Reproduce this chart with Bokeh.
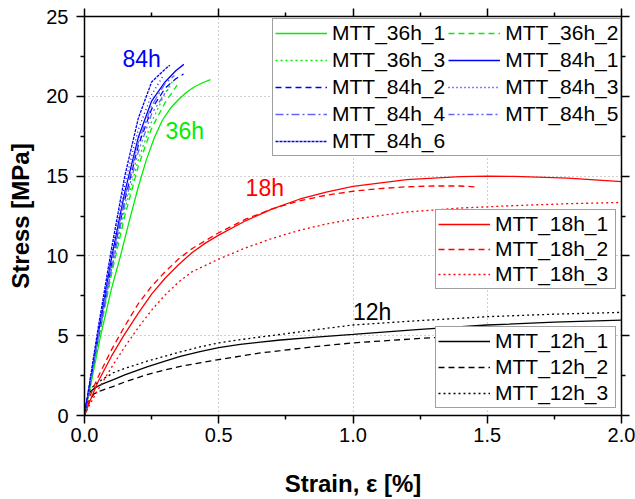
from bokeh.plotting import figure
from bokeh.models import (FixedTicker, LinearAxis, Legend, LegendItem, Label,
                          PrintfTickFormatter, CustomJSTickFormatter)
from bokeh.embed import file_html
from bokeh.resources import INLINE

# ---------------- data ----------------
x_ticks = [0.0, 0.5, 1.0, 1.5, 2.0]
x_minor = [0.25, 0.75, 1.25, 1.75]
y_ticks = [0, 5, 10, 15, 20, 25]
y_minor = [2.5, 7.5, 12.5, 17.5, 22.5]

# 12h
x12_1 = [0, 0.005, 0.01, 0.02, 0.04, 0.07, 0.108, 0.15, 0.233, 0.3, 0.357, 0.43, 0.5, 0.58, 0.655, 0.73, 0.85, 1.0, 1.25, 1.5, 1.75, 2.0]
y12_1 = [0, 0.6, 1.0, 1.45, 1.75, 2.0, 2.25, 2.55, 3.05, 3.4, 3.7, 4.0, 4.25, 4.45, 4.6, 4.73, 4.9, 5.08, 5.4, 5.67, 5.85, 5.98]
x12_2 = [0, 0.01, 0.02, 0.035, 0.06, 0.108, 0.15, 0.233, 0.3, 0.357, 0.43, 0.5, 0.58, 0.655, 0.73, 0.853, 1.0, 1.15, 1.29, 1.45, 1.6]
y12_2 = [0, 0.5, 0.95, 1.35, 1.55, 1.83, 2.1, 2.56, 2.85, 3.08, 3.3, 3.5, 3.72, 3.92, 4.06, 4.31, 4.55, 4.72, 4.87, 5.0, 5.1]
x12_3 = [0, 0.005, 0.01, 0.02, 0.04, 0.07, 0.108, 0.15, 0.233, 0.3, 0.357, 0.43, 0.5, 0.58, 0.655, 0.73, 0.85, 1.0, 1.25, 1.5, 1.75, 2.0]
y12_3 = [0, 0.7, 1.1, 1.6, 1.95, 2.3, 2.68, 2.95, 3.4, 3.72, 3.98, 4.3, 4.55, 4.75, 4.92, 5.08, 5.35, 5.67, 5.95, 6.19, 6.35, 6.46]

# 18h
x18_1 = [0, 0.02, 0.05, 0.1, 0.146, 0.2, 0.25, 0.3, 0.35, 0.4, 0.45, 0.5, 0.6, 0.7, 0.8, 0.9, 1.0, 1.2, 1.4, 1.5, 1.6, 1.8, 2.0]
y18_1 = [0, 0.9, 2.1, 3.7, 5.0, 6.4, 7.6, 8.6, 9.45, 10.2, 10.8, 11.3, 12.2, 12.95, 13.55, 14.0, 14.35, 14.78, 14.97, 15.0, 14.98, 14.87, 14.65]
x18_2 = [0, 0.02, 0.05, 0.1, 0.15, 0.2, 0.25, 0.3, 0.35, 0.4, 0.45, 0.5, 0.6, 0.7, 0.8, 0.9, 1.0, 1.1, 1.2, 1.3, 1.4, 1.46]
y18_2 = [0, 1.2, 2.4, 4.1, 5.6, 7.0, 8.1, 9.0, 9.8, 10.45, 10.95, 11.45, 12.3, 12.95, 13.45, 13.8, 14.05, 14.22, 14.33, 14.38, 14.38, 14.32]
x18_3 = [0, 0.02, 0.05, 0.1, 0.15, 0.2, 0.25, 0.3, 0.35, 0.4, 0.5, 0.6, 0.7, 0.8, 0.9, 1.0, 1.2, 1.4, 1.6, 1.8, 2.0]
y18_3 = [0, 0.7, 1.6, 3.0, 4.3, 5.5, 6.6, 7.55, 8.35, 9.0, 9.8, 10.5, 11.1, 11.6, 12.0, 12.3, 12.75, 13.0, 13.15, 13.27, 13.35]

# 36h
x36_1 = [0, 0.03, 0.06, 0.1, 0.134, 0.17, 0.2, 0.23, 0.26, 0.29, 0.32, 0.35, 0.38, 0.41, 0.44, 0.469]
y36_1 = [0, 2.5, 5.0, 7.9, 10.0, 12.4, 14.3, 16.0, 17.4, 18.5, 19.25, 19.8, 20.25, 20.6, 20.85, 21.05]
x36_2 = [0, 0.05, 0.1, 0.15, 0.2, 0.25, 0.3, 0.345]
y36_2 = [0, 4.6, 8.8, 12.5, 15.6, 18.0, 19.6, 20.7]
x36_3 = [0, 0.05, 0.1, 0.15, 0.2, 0.25, 0.3, 0.33]
y36_3 = [0, 4.7, 9.0, 12.9, 16.0, 18.4, 20.2, 21.0]

# 84h
x84_1 = [0, 0.05, 0.1, 0.15, 0.2, 0.25, 0.3, 0.34, 0.37]
y84_1 = [0, 5.0, 9.8, 14.0, 17.4, 19.7, 20.9, 21.6, 22.0]
x84_2 = [0, 0.05, 0.1, 0.15, 0.2, 0.25, 0.3, 0.34, 0.369]
y84_2 = [0, 4.8, 9.4, 13.5, 16.9, 19.2, 20.5, 21.1, 21.4]
x84_3 = [0, 0.05, 0.1, 0.15, 0.2, 0.25, 0.29]
y84_3 = [0, 5.2, 10.1, 14.5, 17.9, 20.1, 21.2]
x84_4 = [0, 0.05, 0.1, 0.15, 0.2, 0.25, 0.3, 0.335]
y84_4 = [0, 4.9, 9.5, 13.7, 17.1, 19.4, 20.8, 21.3]
x84_5 = [0, 0.05, 0.1, 0.15, 0.2, 0.25, 0.3, 0.32]
y84_5 = [0, 4.7, 9.1, 13.2, 16.5, 18.9, 20.2, 20.6]
x84_6 = [0, 0.05, 0.1, 0.15, 0.2, 0.25, 0.3, 0.318]
y84_6 = [0, 5.4, 10.4, 15.0, 18.6, 20.9, 21.7, 21.95]

# ---------------- styles ----------------
FONT = "Liberation Sans"
GREEN = "#00ee00"
BLUE = "#0000ff"
LBLUE = "#6464ff"
RED = "#ff0000"
BLACK = "#000000"
LW = 1.3

p = figure(width=635, height=499, x_range=(0, 2.0), y_range=(0, 25),
           output_backend="svg", toolbar_location=None,
           min_border_left=84, min_border_right=14,
           min_border_top=16, min_border_bottom=83)
p.outline_line_color = None
p.background_fill_color = "white"
p.border_fill_color = "white"

xt = FixedTicker(ticks=x_ticks, minor_ticks=x_minor)
yt = FixedTicker(ticks=y_ticks, minor_ticks=y_minor)


def style_axis(ax):
    ax.axis_line_width = 1.5
    ax.axis_line_color = "black"
    ax.major_tick_out = 8
    ax.major_tick_in = 0
    ax.minor_tick_out = 4
    ax.minor_tick_in = 0
    ax.major_tick_line_width = 1.5
    ax.minor_tick_line_width = 1.5
    ax.major_tick_line_color = "black"
    ax.minor_tick_line_color = "black"
    ax.major_label_text_font = FONT
    ax.major_label_text_font_size = "20px"
    ax.major_label_text_color = "black"


xa = p.xaxis[0]
xa.ticker = xt
xa.formatter = PrintfTickFormatter(format="%.1f")
style_axis(xa)
xa.major_label_standoff = 4
xa.axis_label = "Strain, \u03b5 [%]"
xa.axis_label_text_font = FONT
xa.axis_label_text_font_size = "24px"
xa.axis_label_text_font_style = "bold"
xa.axis_label_text_color = "black"
xa.axis_label_text_line_height = 0.7
xa.axis_label_standoff = 25

ya = p.yaxis[0]
ya.ticker = yt
style_axis(ya)
ya.major_label_standoff = 8
ya.axis_label = "Stress [MPa]"
ya.axis_label_text_font = FONT
ya.axis_label_text_font_size = "24px"
ya.axis_label_text_font_style = "bold"
ya.axis_label_text_color = "black"
ya.axis_label_standoff = 9

for place, tk in (("above", xt), ("right", yt)):
    ax = LinearAxis(ticker=tk, formatter=CustomJSTickFormatter(code="return ''"))
    style_axis(ax)
    ax.major_label_text_font_size = "0px"
    ax.major_label_standoff = 0
    p.add_layout(ax, place)

for g, tk in ((p.xgrid[0], xt), (p.ygrid[0], yt)):
    g.ticker = tk
    g.grid_line_color = "#a0a0a0"
    g.grid_line_dash = "1 3"
    g.grid_line_width = 1

# ---------------- lines ----------------
r12_1 = p.line(x12_1, y12_1, line_color=BLACK, line_width=LW)
r12_2 = p.line(x12_2, y12_2, line_color=BLACK, line_width=LW, line_dash="6 4")
r12_3 = p.line(x12_3, y12_3, line_color=BLACK, line_width=LW, line_dash="2 3")

r18_1 = p.line(x18_1, y18_1, line_color=RED, line_width=LW)
r18_2 = p.line(x18_2, y18_2, line_color=RED, line_width=LW, line_dash="6 4")
r18_3 = p.line(x18_3, y18_3, line_color=RED, line_width=LW, line_dash="2 3")

r36_1 = p.line(x36_1, y36_1, line_color=GREEN, line_width=LW)
r36_2 = p.line(x36_2, y36_2, line_color=GREEN, line_width=LW, line_dash="6 4")
r36_3 = p.line(x36_3, y36_3, line_color=GREEN, line_width=LW, line_dash="2 3")

r84_1 = p.line(x84_1, y84_1, line_color=BLUE, line_width=LW)
r84_2 = p.line(x84_2, y84_2, line_color=BLUE, line_width=LW, line_dash="6 4")
r84_3 = p.line(x84_3, y84_3, line_color=BLUE, line_width=LW, line_dash="1 3")
r84_4 = p.line(x84_4, y84_4, line_color=LBLUE, line_width=LW, line_dash="8 3 2 3")
r84_5 = p.line(x84_5, y84_5, line_color=LBLUE, line_width=LW, line_dash="6 3 2 3 2 3")
r84_6 = p.line(x84_6, y84_6, line_color=BLUE, line_width=LW, line_dash="3 1")

# ---------------- legends ----------------
def make_legend(pairs, loc, ncols=1, label_width=20, spacing=1):
    items = [LegendItem(label=lab, renderers=[r]) for lab, r in pairs]
    lg = Legend(items=items, location=loc, ncols=ncols,
                label_text_font=FONT, label_text_font_size="21px",
                label_text_color="black",
                glyph_width=52, glyph_height=22, label_height=22,
                label_standoff=5, label_width=label_width,
                spacing=spacing, padding=2, margin=0,
                border_line_color="#404040", border_line_width=1.5,
                background_fill_color="white", background_fill_alpha=1.0)
    p.add_layout(lg, "center")
    return lg


# legend fills column by column: first column then second column
make_legend([("MTT_36h_1", r36_1), ("MTT_36h_3", r36_3),
             ("MTT_84h_2", r84_2), ("MTT_84h_4", r84_4),
             ("MTT_84h_6", r84_6),
             ("MTT_36h_2", r36_2), ("MTT_84h_1", r84_1),
             ("MTT_84h_3", r84_3), ("MTT_84h_5", r84_5)],
            (188, 259), ncols=2, label_width=112, spacing=3)
make_legend([("MTT_18h_1", r18_1), ("MTT_18h_2", r18_2),
             ("MTT_18h_3", r18_3)], (351, 126), label_width=118)
make_legend([("MTT_12h_1", r12_1), ("MTT_12h_2", r12_2),
             ("MTT_12h_3", r12_3)], (351, 7), label_width=118, spacing=2)

# ---------------- annotations ----------------
for txt, xx, yy, col in (("84h", 0.1415, 22.35, BLUE), ("36h", 0.302, 17.85, GREEN),
                         ("18h", 0.6, 14.25, RED), ("12h", 1.0, 6.48, BLACK)):
    p.add_layout(Label(x=xx, y=yy, text=txt, text_color=col, text_font=FONT,
                       text_font_size="23px", text_baseline="alphabetic"))

open("out.html", "w").write(file_html(p, INLINE))
